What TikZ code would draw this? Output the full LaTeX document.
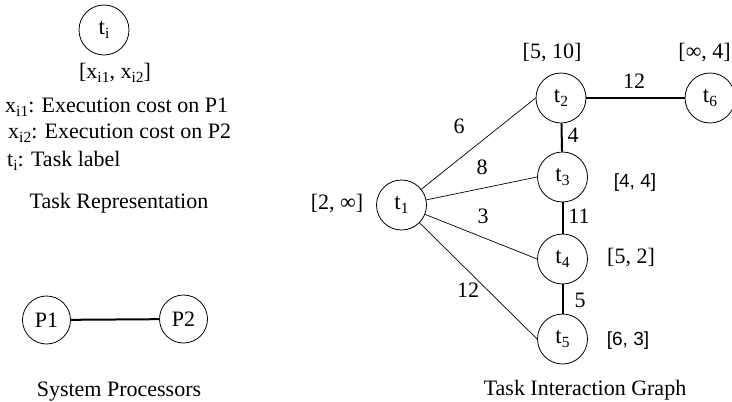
\documentclass[tikz,border=0pt]{standalone}
\usepackage{fontspec}
\setmainfont{Liberation Serif}
\newfontfamily\lsans{Liberation Sans}
\newcommand\mysub[1]{\raisebox{-4.5pt}{\fontsize{15.5}{16}\selectfont #1}}
\begin{document}
\begin{tikzpicture}[x=1pt,y=-1pt,
  every node/.style={font=\fontsize{22}{26}\selectfont, inner sep=0pt},
  task/.style={circle, draw, line width=0.8pt, minimum size=50pt, font=\fontsize{23}{26}\selectfont},
  proc/.style={circle, draw, line width=0.8pt, minimum size=48pt},
  lightedge/.style={line width=0.7pt},
  heavyedge/.style={line width=2pt},
  sanslabel/.style={font=\lsans\fontsize{19}{23}\selectfont}]
\useasboundingbox (0,0) rectangle (732,402);
% Task representation
\node[task] (ti) at (104,30) {t\mysub{i}};
\node (tilab) at (115,73) {[x\mysub{i1}, x\mysub{i2}]};
\node[anchor=base west] (d1) at (5,112) {x\mysub{i1}: Execution cost on P1};
\node[anchor=base west] (d2) at (8,138) {x\mysub{i2}: Execution cost on P2};
\node[anchor=base west] (d3) at (7,166) {t\mysub{i}: Task label};
\node[anchor=base] (trep) at (119,208) {Task Representation};
% System processors
\node[proc] (P1) at (46.5,320) {P1};
\node[proc] (P2) at (183.5,319) {P2};
\draw[heavyedge] (P1) -- (P2);
\node[anchor=base] (sysp) at (119,396) {System Processors};
% Task interaction graph
\node[task] (t1) at (401.5,205) {t\mysub{1}};
\node[task] (t2) at (561,98) {t\mysub{2}};
\node[task] (t3) at (562.5,177) {t\mysub{3}};
\node[task] (t4) at (562.5,259) {t\mysub{4}};
\node[task] (t5) at (562.5,339) {t\mysub{5}};
\node[task] (t6) at (710,98) {t\mysub{6}};
\draw[lightedge] (t1) -- (t2.west);
\draw[lightedge] (t1) -- (t3.west);
\draw[lightedge] (t1) -- (t4.west);
\draw[lightedge] (t1) -- (t5.west);
\draw[heavyedge] (t2) -- (t3);
\draw[heavyedge] (t3) -- (t4);
\draw[heavyedge] (t4) -- (t5);
\draw[heavyedge] (t2) -- (t6);
% weights
\node (w6) at (459,126) {6};
\node (w8) at (482,167) {8};
\node (w3) at (483,216) {3};
\node (w12a) at (468,290) {12};
\node (w4) at (573,135) {4};
\node (w11) at (579,216) {11};
\node (w5) at (580,300) {5};
\node (w12b) at (634,81) {12};
% costs
\node (c2) at (552,53) {[5, 10]};
\node[anchor=east] (c6) at (731,53) {[∞, 4]};
\node (c1) at (337,204) {[2, ∞]};
\node[sanslabel] (c3) at (635,183) {[4, 4]};
\node (c4) at (631,258) {[5, 2]};
\node[sanslabel] (c5) at (628,341) {[6, 3]};
\node[anchor=base] (tig) at (585,395) {Task Interaction Graph};
\end{tikzpicture}
\end{document}
